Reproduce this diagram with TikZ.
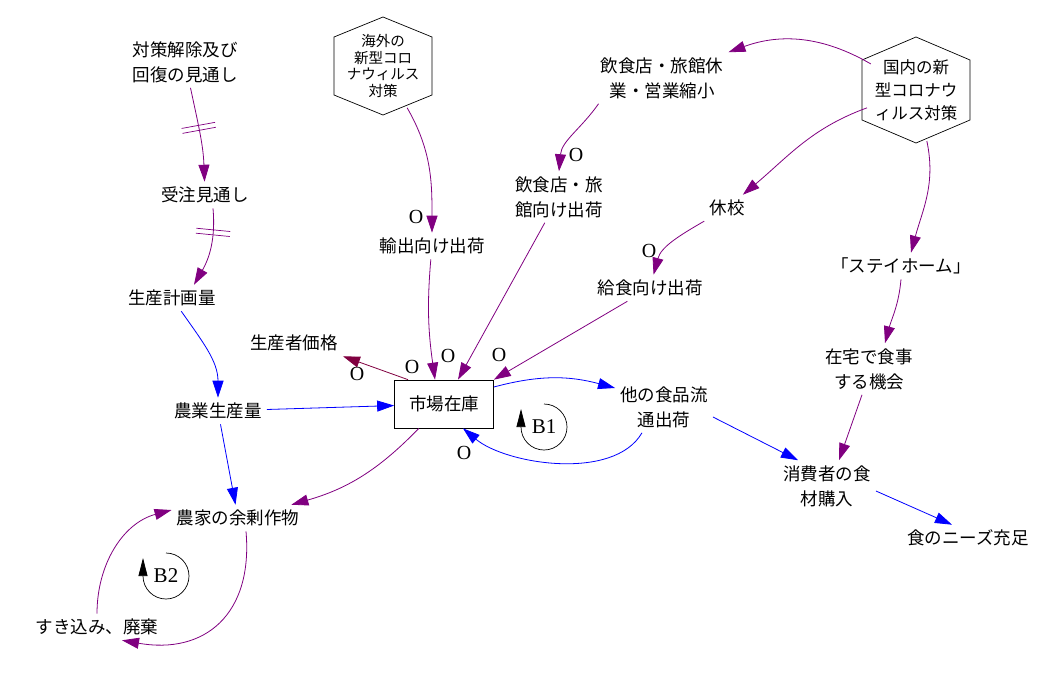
\documentclass[tikz,border=0pt]{standalone}
\usepackage{fontspec}
\setmainfont{Noto Sans CJK JP}
\newfontfamily\latinserif{Liberation Serif}
\usetikzlibrary{arrows.meta,decorations.markings}
\definecolor{linkpurple}{RGB}{128,0,128}
\definecolor{linkblue}{RGB}{0,0,255}
\definecolor{linkmaroon}{RGB}{128,0,64}
\newcommand{\hexframe}[4]{%
  \draw[line width=0.7pt] ([shift={(0,#3)}]#1.center) -- ([shift={(#2,#4)}]#1.center)
    -- ([shift={(#2,-#4)}]#1.center) -- ([shift={(0,-#3)}]#1.center)
    -- ([shift={(-#2,-#4)}]#1.center) -- ([shift={(-#2,#4)}]#1.center) -- cycle;}

\begin{document}
\begin{tikzpicture}[x=1pt, y=1pt,
  vname/.style={align=center, inner sep=5pt, font=\fontsize{17.5}{25}\selectfont},
  hexvar/.style={circle, align=center, inner sep=0pt},
  polarity/.style={font=\latinserif\fontsize{20}{20}\selectfont, inner sep=1pt},
  looplab/.style={font=\latinserif\fontsize{21}{21}\selectfont, inner sep=1pt},
  linktip/.style={-{Triangle[length=17pt,width=11pt]}},
  plink/.style={linktip, draw=linkpurple, line width=0.8pt},
  blink/.style={linktip, draw=linkblue, line width=0.8pt},
  mlink/.style={linktip, draw=linkmaroon, line width=0.8pt},
  delaymark/.style={postaction={decorate}, decoration={markings, mark=at position #1 with {\draw[-, linkpurple, line width=0.7pt] (-2.5pt,-17pt) -- (-2.5pt,17pt) (2.5pt,-17pt) -- (2.5pt,17pt);}}},
  loopmark/.style={line width=0.7pt, -{Triangle[length=18pt,width=9pt]}}
]
\useasboundingbox (0,0) rectangle (1049,-686);

\node[vname] (jiyo) at (185,-62) {対策解除及び\\回復の見通し};
\node[hexvar, minimum size=96pt, font=\fontsize{14.5}{16.5}\selectfont] (overseas) at (383,-66) {海外の\\新型コロ\\ナウィルス\\対策};
\hexframe{overseas}{49}{49}{29}
\node[vname] (kyugyo) at (662,-78) {飲食店・旅館休\\業・営業縮小};
\node[hexvar, minimum size=104pt, font=\fontsize{16.5}{23}\selectfont] (domestic) at (916,-90) {国内の新\\型コロナウ\\ィルス対策};
\hexframe{domestic}{54}{53}{30}
\node[vname] (juchu) at (205,-195) {受注見通し};
\node[vname] (keikaku) at (172,-298) {生産計画量};
\node[vname] (yushutsu) at (432,-246) {輸出向け出荷};
\node[vname] (inshoku) at (559,-197) {飲食店・旅\\館向け出荷};
\node[vname] (kyuko) at (727,-208) {休校};
\node[vname] (kyushoku) at (650,-288) {給食向け出荷};
\node[vname] (stayhome) at (901,-266) {「ステイホーム」};
\node[vname] (kakaku) at (294,-343) {生産者価格};
\node[vname, draw, line width=0.7pt, minimum width=99pt, minimum height=48pt] (ichiba) at (444,-404) {市場在庫};
\node[vname] (tashoku) at (664,-407) {他の食品流\\通出荷};
\node[vname] (zaitaku) at (869,-369) {在宅で食事\\する機会};
\node[vname] (nogyo) at (218,-411) {農業生産量};
\node[vname] (shohi) at (827,-486) {消費者の食\\材購入};
\node[vname] (yojo) at (238,-518) {農家の余剰作物};
\node[vname] (needs) at (968,-538) {食のニーズ充足};
\node[vname] (sukikomi) at (97,-627) {すき込み、廃棄};

\draw[plink, delaymark=0.43] (jiyo) to[out=-78, in=92] (juchu);
\draw[plink, delaymark=0.3] ([xshift=8pt]juchu.south) to[out=-85, in=60] ([xshift=22pt]keikaku.north);
\draw[blink] (keikaku) to[out=-55, in=90] (nogyo);
\draw[blink] (nogyo) -- (ichiba);
\draw[blink] (nogyo) -- (yojo);
\draw[plink] (ichiba) to[bend left=15] (yojo);
\draw[plink] ([xshift=8pt]yojo.south) to[out=-85, in=-10, looseness=1.3] ([xshift=25pt]sukikomi.south);
\draw[plink] (sukikomi) to[out=90, in=195] ([yshift=8pt]yojo.west);
\draw[mlink] ([xshift=-36pt]ichiba.north) -- (kakaku.south east);
\draw[plink] (overseas) to[out=-60, in=90] (yushutsu);
\draw[plink] (yushutsu) to[out=-95, in=98] ([xshift=-9pt]ichiba.north);
\draw[plink] (inshoku) -- ([xshift=14pt]ichiba.north);
\draw[plink] (kyushoku) -- (ichiba.north east);
\draw[plink] (domestic) to[out=150, in=20] (kyugyo.north east);
\draw[plink] ([xshift=3pt]kyugyo.south west) to[out=-125, in=85] (inshoku.north);
\draw[plink] (domestic) to[out=-160, in=40] (kyuko);
\draw[plink] (kyuko) to[out=-150, in=75] (kyushoku);
\draw[plink] (domestic) to[out=-78, in=75] ([xshift=10pt]stayhome.north);
\draw[plink] (stayhome.south) to[out=-95, in=75] ([xshift=16pt]zaitaku.north);
\draw[plink] ([xshift=-7pt]zaitaku.south) -- ([xshift=12pt]shohi.north);
\draw[blink] ([yshift=17pt]ichiba.east) to[out=15, in=165] ([yshift=19pt]tashoku.west);
\draw[blink] ([xshift=-22pt]tashoku.south) to[out=-120, in=-40, looseness=0.8] ([xshift=19pt]ichiba.south);
\draw[blink] ([yshift=-10pt]tashoku.east) -- ([xshift=-29pt]shohi.north);
\draw[blink] ([yshift=-5pt]shohi.east) -- ([xshift=-16pt]needs.north);

\node[polarity] (o1) at (357,-374) {O};
\node[polarity] (o2) at (412,-367) {O};
\node[polarity] (o3) at (448,-356) {O};
\node[polarity] (o4) at (499,-355) {O};
\node[polarity] (o5) at (464,-453) {O};
\node[polarity] (o6) at (416,-217) {O};
\node[polarity] (o7) at (576,-155) {O};
\node[polarity] (o8) at (649,-251) {O};

\node[looplab] (b1) at (544,-427) {B1};
\draw[loopmark] (b1.center) ++(0,23) arc[start angle=90, end angle=-180, radius=23] -- ++(0,18);
\node[looplab] (b2) at (166,-576) {B2};
\draw[loopmark] (b2.center) ++(0,23) arc[start angle=90, end angle=-180, radius=23] -- ++(0,18);
\end{tikzpicture}
\end{document}
